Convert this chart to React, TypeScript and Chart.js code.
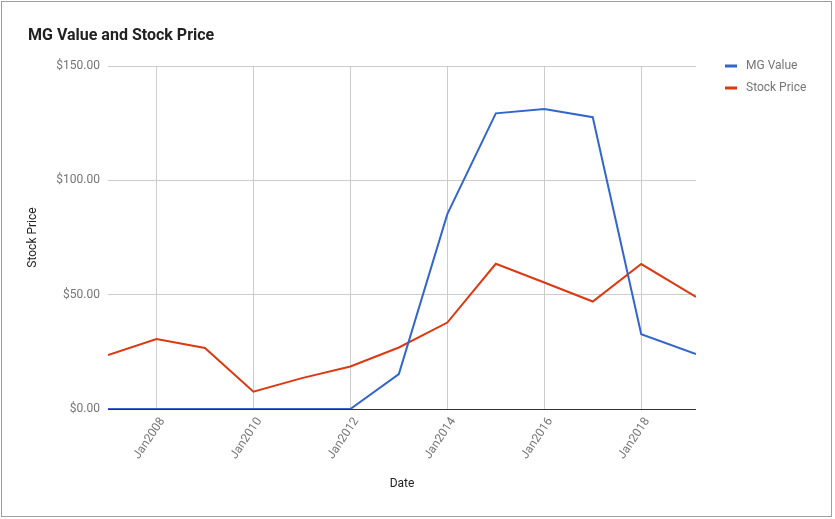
import React, { useEffect, useRef } from "react";
import { Chart, registerables } from "chart.js";

Chart.register(...registerables);

// Dates of each observation (decimal years)
const dates = [2007.0, 2008.0, 2009.0, 2010.0, 2011.0, 2012.0, 2013.0, 2014.0, 2015.0, 2016.0, 2017.0, 2018.0, 2019.13];
const mgValue = [0, 0, 0, 0, 0, 0, 15.3, 85.2, 129.3, 131.2, 127.6, 32.7, 24];
const stockPrice = [23.6, 30.6, 26.7, 7.6, 13.5, 18.6, 26.9, 37.8, 63.5, 55.3, 47, 63.4, 49];
const xTickYears = [2008, 2010, 2012, 2014, 2016, 2018];
const yTicks = [0, 50, 100, 150];
const seriesNames = ["MG Value", "Stock Price"];
const seriesColors = ["#3366cc", "#dc3912"];
const titleText = "MG Value and Stock Price";

const FONT = "Roboto, Arial, sans-serif";

const decorPlugin = {
  id: "decor",
  beforeDraw(chart: any) {
    const ctx = chart.ctx;
    ctx.save();
    ctx.fillStyle = "#ffffff";
    ctx.fillRect(0, 0, chart.width, chart.height);
    ctx.strokeStyle = "#9e9e9e";
    ctx.lineWidth = 1;
    ctx.strokeRect(1.5, 1.5, 830, 515);
    ctx.restore();
  },
  afterDraw(chart: any) {
    const ctx = chart.ctx;
    ctx.save();
    ctx.fillStyle = "#222222";
    ctx.font = `bold 16px ${FONT}`;
    ctx.textBaseline = "middle";
    ctx.textAlign = "left";
    ctx.fillText(titleText, 28, 36);
    ctx.font = `12px ${FONT}`;
    seriesNames.forEach((name, i) => {
      const y = 66 + i * 22;
      ctx.fillStyle = seriesColors[i];
      ctx.fillRect(725, y - 1.5, 12, 3);
      ctx.fillStyle = "#757575";
      ctx.fillText(name, 746, y);
    });
    ctx.restore();
  },
};

export default function App() {
  const ref = useRef<HTMLCanvasElement | null>(null);
  useEffect(() => {
    if (!ref.current) return;
    const chart = new Chart(ref.current, {
      type: "line",
      data: {
        datasets: seriesNames.map((name, i) => ({
          label: name,
          data: dates.map((d, j) => ({ x: d, y: (i === 0 ? mgValue : stockPrice)[j] })),
          borderColor: seriesColors[i],
          backgroundColor: seriesColors[i],
          borderWidth: 2,
          pointRadius: 0,
          tension: 0,
          fill: false,
        })),
      },
      plugins: [decorPlugin],
      options: {
        animation: false,
        responsive: false,
        devicePixelRatio: 1,
        layout: { padding: { left: 0, right: 139, top: 66, bottom: 0 } },
        plugins: { legend: { display: false }, title: { display: false }, tooltip: { enabled: false } },
        scales: {
          x: {
            type: "linear",
            min: dates[0],
            max: dates[dates.length - 1],
            afterFit: (s: any) => { s.height = 110; },
            afterBuildTicks: (s: any) => { s.ticks = xTickYears.map((v) => ({ value: v })); },
            grid: { color: "#cccccc", drawTicks: false, lineWidth: 1 },
            border: { display: false },
            ticks: {
              minRotation: 56,
              maxRotation: 56,
              autoSkip: false,
              padding: 6,
              labelOffset: 6,
              color: "#757575",
              font: { family: FONT, size: 12 },
              callback: (v: any) => "Jan" + v,
            },
            title: {
              display: true,
              text: "Date",
              color: "#222222",
              font: { family: FONT, size: 12 },
              padding: { top: 0, bottom: 28 },
            },
          },
          y: {
            min: 0,
            max: 150,
            afterFit: (s: any) => { s.width = 108; },
            afterBuildTicks: (s: any) => { s.ticks = yTicks.map((v) => ({ value: v })); },
            grid: {
              color: (c: any) => (c.tick && c.tick.value === 0 ? "#333333" : "#cccccc"),
              drawTicks: false,
              lineWidth: 1,
            },
            border: { display: false },
            ticks: {
              padding: 8,
              color: "#757575",
              font: { family: FONT, size: 12 },
              callback: (v: any) => "$" + Number(v).toFixed(2),
            },
            title: {
              display: true,
              text: "Stock Price",
              color: "#222222",
              font: { family: FONT, size: 12 },
              padding: { top: 26, bottom: 0 },
            },
          },
        },
      },
    });
    return () => chart.destroy();
  }, []);
  return (
    <div style={{ position: "fixed", left: 0, top: 0, width: 835, height: 519, background: "#fff" }}>
      <canvas ref={ref} width={835} height={519} style={{ width: 835, height: 519, display: "block" }} />
    </div>
  );
}
